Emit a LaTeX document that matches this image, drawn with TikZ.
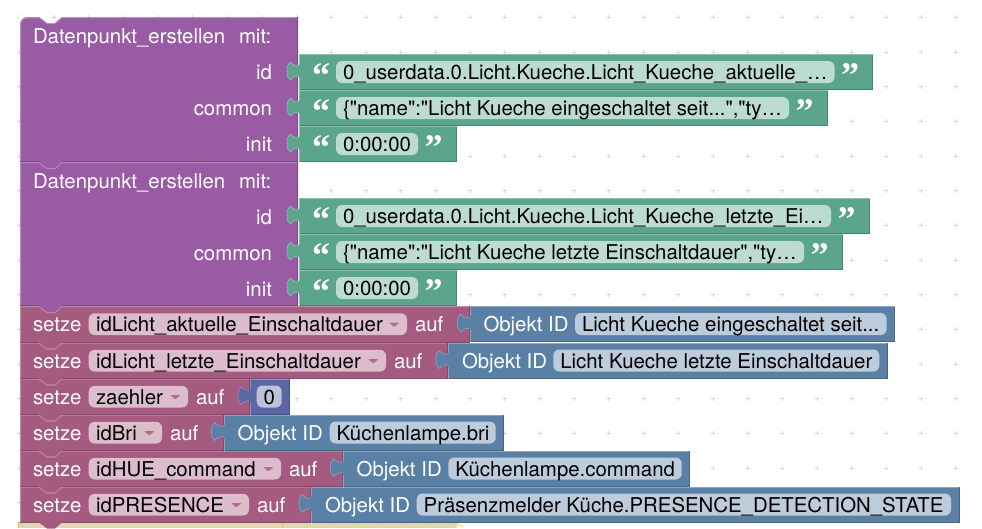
\documentclass[tikz,border=0pt]{standalone}
\usepackage{fontspec}
\newfontfamily\labelfont{TeX Gyre Heros}
\newfontfamily\quotefont{Liberation Serif}[BoldFont={Liberation Serif Bold}]
\definecolor{pF}{HTML}{9A5BA5}\definecolor{pL}{HTML}{B98EC1}\definecolor{pD}{HTML}{7B4984}
\definecolor{rF}{HTML}{A55B80}\definecolor{rL}{HTML}{C08DA6}\definecolor{rD}{HTML}{844966}\definecolor{rT}{HTML}{DBBDCC}
\definecolor{gF}{HTML}{5BA58C}\definecolor{gL}{HTML}{8DC0AE}\definecolor{gD}{HTML}{498470}\definecolor{gT}{HTML}{BDDCD1}
\definecolor{bF}{HTML}{5B80A5}\definecolor{bL}{HTML}{8CA6C0}\definecolor{bD}{HTML}{496684}\definecolor{bT}{HTML}{BDCCDB}
\definecolor{iF}{HTML}{5B67A5}\definecolor{iL}{HTML}{8C95C0}\definecolor{iD}{HTML}{495284}\definecolor{iT}{HTML}{BDC2DB}
\definecolor{gridc}{HTML}{D8D8D8}
\definecolor{hazF}{HTML}{D6D6CC}\definecolor{hazY}{HTML}{F2DC7E}\definecolor{hazB}{HTML}{EDBE62}
\newcount\nodeno
\tikzset{
  lbl/.style={inner sep=0pt,outer sep=0pt,font=\labelfont\fontsize{20.4}{24}\selectfont},
  qmark/.style={inner sep=0pt,outer sep=0pt,text=white,font=\quotefont\bfseries\fontsize{36}{40}\selectfont},
  edgeline/.style={line width=1pt},
  fieldbox/.style={rounded corners=6pt},
  plusmark/.style={gridc,line width=0.9pt}
}
% text label
\newcommand{\Txt}[5]{\global\advance\nodeno by 1
  \node[lbl,anchor=#3,text=#4] (n\the\nodeno) at (#1,#2+.6) {#5};}
% statement block: x0,y0,x1,y1,colour prefix
\newcommand{\Stmt}[5]{%
  \fill[#5F] (20,#2) -- (39,#2) -- (47,#2+6) -- (55,#2+6) -- (62,#2) -- (#3,#2) -- (#3,#4)
     -- (62,#4) -- (55,#4+6) -- (47,#4+6) -- (39,#4) -- (20,#4) -- cycle;
  \draw[#5L,edgeline] (20.5,#4) -- (20.5,#2+.5) -- (39,#2+.5) -- (47,#2+6.5) -- (55,#2+6.5) -- (62,#2+.5) -- (#3,#2+.5);
  \draw[#5D,edgeline] (#3-.5,#2) -- (#3-.5,#4-.5) -- (62,#4-.5);
  \draw[#5D,edgeline] (39,#4-.5) -- (20,#4-.5);
}
% value block: x0,y0,x1,colour
\newcommand{\Val}[4]{%
  \fill[#4F,draw=#4L,line width=.6pt] (#1+1,#2+11) .. controls (#1-3,#2+13) and (#1-6,#2+11) .. (#1-9,#2+8)
     .. controls (#1-11.5,#2+10) and (#1-12,#2+13) .. (#1-12,#2+17)
     .. controls (#1-12,#2+21) and (#1-11.5,#2+24) .. (#1-9,#2+26)
     .. controls (#1-6,#2+23) and (#1-3,#2+21) .. (#1+1,#2+23) -- cycle;
  \fill[#4F] (#1,#2) rectangle (#3,#2+36);
  \draw[#4L,edgeline] (#1+.5,#2+10) -- (#1+.5,#2+.5) -- (#3,#2+.5);
  \draw[#4L,edgeline] (#1+.5,#2+36) -- (#1+.5,#2+24);
  \draw[#4D,edgeline] (#3-.5,#2+.5) -- (#3-.5,#2+35.5) -- (#1+1,#2+35.5);
}
\newcommand{\Fld}[4]{\fill[#4T,fieldbox] (#1,#2+7) rectangle (#3,#2+29);}
\begin{document}
\begin{tikzpicture}[x=1pt,y=-1pt]
\useasboundingbox (0,0) rectangle (982,528);
\fill[white] (0,0) rectangle (982,528);
% workspace grid
\foreach \k in {0,...,27}{\foreach \j in {0,...,14}{
  \pgfmathsetmacro{\gx}{955.7-34.68*\k}
  \pgfmathsetmacro{\gy}{17.3+34.68*\j}
  \draw[plusmark] (\gx-2,\gy) -- (\gx+2,\gy) (\gx,\gy-2) -- (\gx,\gy+2);
}}
% following block, mostly cut off by the picture edge
\fill[hazF] (18,522) rectangle (457,528);
\foreach \k in {0,...,36}{
  \pgfmathsetmacro{\zx}{19+12*\k}
  \draw[hazY,line width=1.1pt] (\zx,527) -- (\zx+6,523.5) -- (\zx+12,527);
}
\draw[hazB,line width=1.5pt] (18.7,528) -- (18.7,522.5) -- (282.5,522.5) -- (282.5,528);
% statement blocks, last first so each tab lies over the next block
\Stmt{20}{486.5}{311}{522.5}{r}
\Stmt{20}{450.5}{342.5}{486.5}{r}
\Stmt{20}{414.5}{223.5}{450.5}{r}
\Stmt{20}{378.5}{250}{414.5}{r}
\Stmt{20}{342.5}{448}{378.5}{r}
\Stmt{20}{306}{469.5}{342.5}{r}
\Stmt{20}{162}{298}{306}{p}
\Stmt{20}{17}{298}{162}{p}
% rounded top-left corner of the first block
\fill[white] (19,16) -- (28,16) .. controls (23,17) and (20,20) .. (19.5,25) -- cycle;
\draw[pL,edgeline] (20.5,25) .. controls (20.5,21) and (23,18) .. (28,17.5);
% purple block texts
\foreach \t in {17,162}{
  \Txt{33}{\t+26}{base west}{white}{Datenpunkt\_erstellen}
  \Txt{239}{\t+26}{base west}{white}{mit:}
  \Txt{272}{\t+61.5}{base east}{white}{id}
  \Txt{272}{\t+97.5}{base east}{white}{common}
  \Txt{272}{\t+133.5}{base east}{white}{init}
}
% string value blocks
\Val{299}{54}{873}{g}\Fld{336}{54}{834.5}{g}
\Val{299}{90}{828}{g}\Fld{336}{90}{789}{g}
\Val{299}{126}{457}{g}\Fld{336}{126}{418}{g}
\Val{299}{198}{869.5}{g}\Fld{336}{198}{831}{g}
\Val{299}{234}{842.5}{g}\Fld{336}{234}{804}{g}
\Val{299}{270}{457}{g}\Fld{336}{270}{418}{g}
\foreach \t in {54,90,126,198,234,270}{
  \global\advance\nodeno by 1
  \node[qmark,anchor=base west] (n\the\nodeno) at (312,\t+33.5) {“};
}
\foreach \t/\q in {54/841,90/795.5,126/424.5,198/837.5,234/810.5,270/424.5}{
  \global\advance\nodeno by 1
  \node[qmark,anchor=base west] (n\the\nodeno) at (\q,\t+33.5) {”};
}
\Txt{343}{78.5}{base west}{black}{0\_userdata.0.Licht.Kueche.Licht\_Kueche\_aktuelle\_…}
\Txt{343}{114.5}{base west}{black}{\{"name":"Licht Kueche eingeschaltet seit...","ty…}
\Txt{343}{150.5}{base west}{black}{0:00:00}
\Txt{343}{222.5}{base west}{black}{0\_userdata.0.Licht.Kueche.Licht\_Kueche\_letzte\_Ei…}
\Txt{343}{258.5}{base west}{black}{\{"name":"Licht Kueche letzte Einschaltdauer","ty…}
\Txt{343}{294.5}{base west}{black}{0:00:00}
% setze rows
\foreach \t/\fr/\nm in {306/407/idLicht\_aktuelle\_Einschaltdauer,342.5/386/idLicht\_letzte\_Einschaltdauer,378.5/188/zaehler,414.5/162/idBri,450.5/281/idHUE\_command,486.5/249/idPRESENCE}{
  \Txt{33}{\t+25.2}{base west}{white}{setze}
  \fill[rT,fieldbox] (88.7,\t+7.3) rectangle (\fr,\t+29);
  \Txt{96}{\t+25.2}{base west}{black}{\nm}
  \fill[rF!80!rT,rounded corners=.8pt] (\fr-18,\t+16.5) -- (\fr-7.5,\t+16.5) -- (\fr-12.7,\t+21) -- cycle;
  \Txt{\fr+8}{\t+25.2}{base west}{white}{auf}
}
% object id value blocks
\Val{469.5}{306}{894.5}{b}\Fld{575}{306}{886.7}{b}
\Val{448}{342.5}{888}{b}\Fld{553.3}{342.5}{879.3}{b}
\Val{250}{378.5}{290}{i}\Fld{256.7}{378.5}{281.7}{i}
\Val{223.5}{414.5}{504}{b}\Fld{329.7}{414.5}{495.7}{b}
\Val{342.5}{450.5}{689.5}{b}\Fld{448.3}{450.5}{681.7}{b}
\Val{311}{486.5}{959.5}{b}\Fld{416.7}{486.5}{951}{b}
\Txt{483.5}{331.2}{base west}{white}{Objekt ID}
\Txt{582}{331.2}{base west}{black}{Licht Kueche eingeschaltet seit...}
\Txt{462}{367.7}{base west}{white}{Objekt ID}
\Txt{560.3}{367.7}{base west}{black}{Licht Kueche letzte Einschaltdauer}
\Txt{269.2}{403.7}{base}{black}{0}
\Txt{237.7}{439.7}{base west}{white}{Objekt ID}
\Txt{336.7}{439.7}{base west}{black}{Küchenlampe.bri}
\Txt{356.7}{475.7}{base west}{white}{Objekt ID}
\Txt{455.3}{475.7}{base west}{black}{Küchenlampe.command}
\Txt{325}{511.7}{base west}{white}{Objekt ID}
\Txt{423.7}{511.7}{base west}{black}{Präsenzmelder Küche.PRESENCE\_DETECTION\_STATE}
\end{tikzpicture}
\end{document}
